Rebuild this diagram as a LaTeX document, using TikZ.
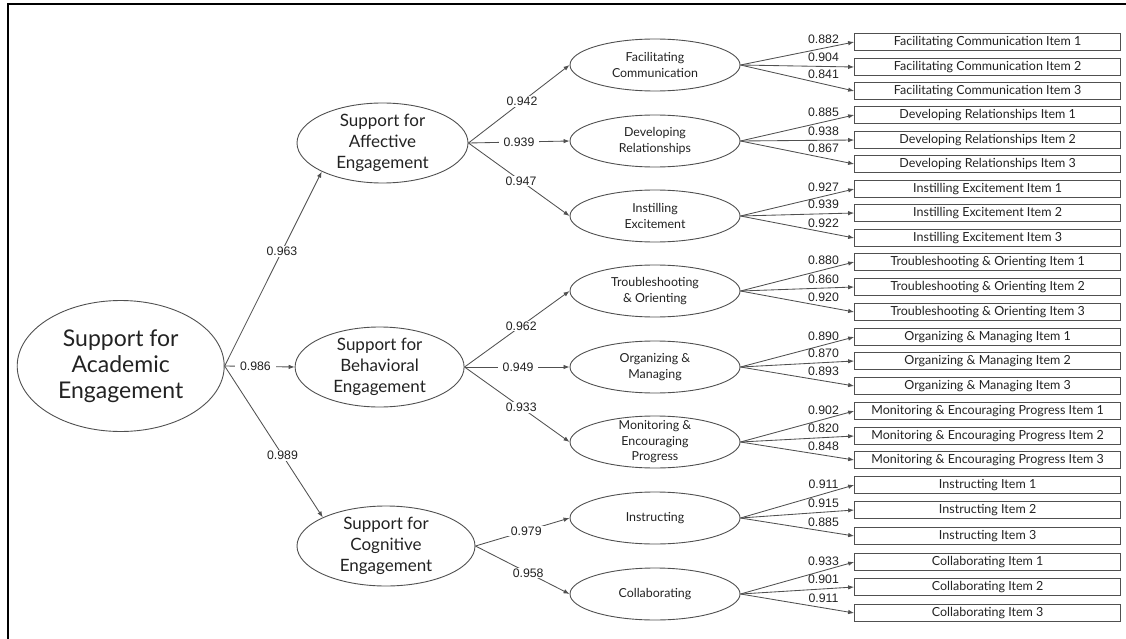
\documentclass[tikz,border=0pt]{standalone}
\usepackage{fontspec}
\setmainfont{Lato}
\newfontfamily\numfont{Liberation Sans}
\usetikzlibrary{arrows.meta,shapes.geometric}

\definecolor{linegray}{HTML}{505050}
\definecolor{textgray}{HTML}{222222}

\tikzset{
    factor/.style={ellipse, draw=linegray, line width=0.9pt, inner sep=0pt, align=center, text=textgray},
    genfac/.style={factor, minimum width=207, minimum height=131, font=\fontsize{23}{26}\selectfont},
    domfac/.style={factor, minimum height=80, inner ysep=-1.5pt, font=\fontsize{17}{21}\selectfont},
    subfac/.style={factor, minimum width=170, minimum height=52, font=\fontsize{12.4}{15.5}\selectfont},
    itembox/.style={draw=linegray, line width=0.9pt, minimum width=266, minimum height=17, inner sep=0pt, text=textgray, font=\fontsize{12.5}{14}\selectfont},
    arr/.style={draw=linegray, line width=0.85pt, -{Latex[length=6pt,width=4.5pt]}},
    coef/.style={font=\numfont\fontsize{12.3}{14}\selectfont, text=textgray, fill=white, inner xsep=5pt, inner ysep=1pt},
    ldg/.style={font=\numfont\fontsize{12.3}{14}\selectfont, text=textgray, inner sep=1pt, above=3.5pt}
}

\begin{document}
\begin{tikzpicture}[x=1pt, y=-1pt]

    \useasboundingbox (0,0) rectangle (1126,639);
    % frame
    \draw[line width=2pt] (8.3,639) -- (8.3,3.7) -- (1126,3.7);

    % main factors
    % nodes
    \node[genfac] (acad) at (120.7,366) {Support for\\Academic\\Engagement};
    \node[domfac, minimum width=171] (aff) at (382.5,143) {Support for\\Affective\\Engagement};
    \node[domfac, minimum width=169] (beh) at (379.6,367) {Support for\\Behavioral\\Engagement};
    \node[domfac, minimum width=178] (cog) at (386,546) {Support for\\Cognitive\\Engagement};

    % paths
    \draw[arr] (acad.east) -- node[coef, pos=.59] {0.963} (aff.south west); % acad -> aff
    \draw[arr] (acad.east) -- node[coef, pos=.44] {0.986} (beh.west); % acad -> beh
    \draw[arr] (acad.east) -- node[coef, pos=.59] {0.989} (cog.north west); % acad -> cog

    % sub factors
    % nodes
    \node[subfac] (fc) at (655,65) {Facilitating\\Communication};
    \node[subfac] (dr) at (655,141) {Developing\\Relationships};
    \node[subfac] (ie) at (655,216) {Instilling\\Excitement};
    \node[subfac] (to) at (655,291) {Troubleshooting\\\& Orienting};
    \node[subfac] (om) at (655,367) {Organizing \&\\Managing};
    \node[subfac, inner ysep=-3.5pt] (mp) at (655,442) {Monitoring \&\\Encouraging\\Progress};
    \node[subfac] (in) at (655,518) {Instructing};
    \node[subfac] (co) at (655,594) {Collaborating};

    % paths
    \draw[arr] (aff.east) -- node[coef, pos=.53] {0.942} (fc.west); % aff -> fc
    \draw[arr] (aff.east) -- node[coef, pos=.5] {0.939} (dr.west); % aff -> dr
    \draw[arr] (aff.east) -- node[coef, pos=.52] {0.947} (ie.west); % aff -> ie
    \draw[arr] (beh.east) -- node[coef, pos=.54] {0.962} (to.west); % beh -> to
    \draw[arr] (beh.east) -- node[coef, pos=.51] {0.949} (om.west); % beh -> om
    \draw[arr] (beh.east) -- node[coef, pos=.54] {0.933} (mp.west); % beh -> mp
    \draw[arr] (cog.east) -- node[coef, pos=.54] {0.979} (in.west); % cog -> in
    \draw[arr] (cog.east) -- node[coef, pos=.56] {0.958} (co.west); % cog -> co

    % items
    % nodes
    \node[itembox] (fc1) at (987.6,42) {Facilitating Communication Item 1};
    \node[itembox] (fc2) at (987.6,67) {Facilitating Communication Item 2};
    \node[itembox] (fc3) at (987.6,91) {Facilitating Communication Item 3};
    \node[itembox] (dr1) at (987.6,115) {Developing Relationships Item 1};
    \node[itembox] (dr2) at (987.6,140) {Developing Relationships Item 2};
    \node[itembox] (dr3) at (987.6,164) {Developing Relationships Item 3};
    \node[itembox] (ie1) at (987.6,189) {Instilling Excitement Item 1};
    \node[itembox] (ie2) at (987.6,213) {Instilling Excitement Item 2};
    \node[itembox] (ie3) at (987.6,238) {Instilling Excitement Item 3};
    \node[itembox] (to1) at (987.6,262) {Troubleshooting \& Orienting Item 1};
    \node[itembox] (to2) at (987.6,287) {Troubleshooting \& Orienting Item 2};
    \node[itembox] (to3) at (987.6,312) {Troubleshooting \& Orienting Item 3};
    \node[itembox] (om1) at (987.6,337) {Organizing \& Managing Item 1};
    \node[itembox] (om2) at (987.6,361) {Organizing \& Managing Item 2};
    \node[itembox] (om3) at (987.6,386) {Organizing \& Managing Item 3};
    \node[itembox] (mp1) at (987.6,411) {Monitoring \& Encouraging Progress Item 1};
    \node[itembox] (mp2) at (987.6,436) {Monitoring \& Encouraging Progress Item 2};
    \node[itembox] (mp3) at (987.6,460) {Monitoring \& Encouraging Progress Item 3};
    \node[itembox] (in1) at (987.6,485) {Instructing Item 1};
    \node[itembox] (in2) at (987.6,510) {Instructing Item 2};
    \node[itembox] (in3) at (987.6,536) {Instructing Item 3};
    \node[itembox] (co1) at (987.6,562) {Collaborating Item 1};
    \node[itembox] (co2) at (987.6,587) {Collaborating Item 2};
    \node[itembox] (co3) at (987.6,613) {Collaborating Item 3};

    % paths
    \draw[arr] (fc.east) -- node[ldg, pos=.73] {0.882} (fc1.west); % fc -> item 1
    \draw[arr] (fc.east) -- node[ldg, pos=.73] {0.904} (fc2.west); % fc -> item 2
    \draw[arr] (fc.east) -- node[ldg, pos=.73] {0.841} (fc3.west); % fc -> item 3
    \draw[arr] (dr.east) -- node[ldg, pos=.73] {0.885} (dr1.west); % dr -> item 1
    \draw[arr] (dr.east) -- node[ldg, pos=.73] {0.938} (dr2.west); % dr -> item 2
    \draw[arr] (dr.east) -- node[ldg, pos=.73] {0.867} (dr3.west); % dr -> item 3
    \draw[arr] (ie.east) -- node[ldg, pos=.73] {0.927} (ie1.west); % ie -> item 1
    \draw[arr] (ie.east) -- node[ldg, pos=.73] {0.939} (ie2.west); % ie -> item 2
    \draw[arr] (ie.east) -- node[ldg, pos=.73] {0.922} (ie3.west); % ie -> item 3
    \draw[arr] (to.east) -- node[ldg, pos=.73] {0.880} (to1.west); % to -> item 1
    \draw[arr] (to.east) -- node[ldg, pos=.73] {0.860} (to2.west); % to -> item 2
    \draw[arr] (to.east) -- node[ldg, pos=.73] {0.920} (to3.west); % to -> item 3
    \draw[arr] (om.east) -- node[ldg, pos=.73] {0.890} (om1.west); % om -> item 1
    \draw[arr] (om.east) -- node[ldg, pos=.73] {0.870} (om2.west); % om -> item 2
    \draw[arr] (om.east) -- node[ldg, pos=.73] {0.893} (om3.west); % om -> item 3
    \draw[arr] (mp.east) -- node[ldg, pos=.73] {0.902} (mp1.west); % mp -> item 1
    \draw[arr] (mp.east) -- node[ldg, pos=.73] {0.820} (mp2.west); % mp -> item 2
    \draw[arr] (mp.east) -- node[ldg, pos=.73] {0.848} (mp3.west); % mp -> item 3
    \draw[arr] (in.east) -- node[ldg, pos=.73] {0.911} (in1.west); % in -> item 1
    \draw[arr] (in.east) -- node[ldg, pos=.73] {0.915} (in2.west); % in -> item 2
    \draw[arr] (in.east) -- node[ldg, pos=.73] {0.885} (in3.west); % in -> item 3
    \draw[arr] (co.east) -- node[ldg, pos=.73] {0.933} (co1.west); % co -> item 1
    \draw[arr] (co.east) -- node[ldg, pos=.73] {0.901} (co2.west); % co -> item 2
    \draw[arr] (co.east) -- node[ldg, pos=.73] {0.911} (co3.west); % co -> item 3

\end{tikzpicture}
\end{document}
